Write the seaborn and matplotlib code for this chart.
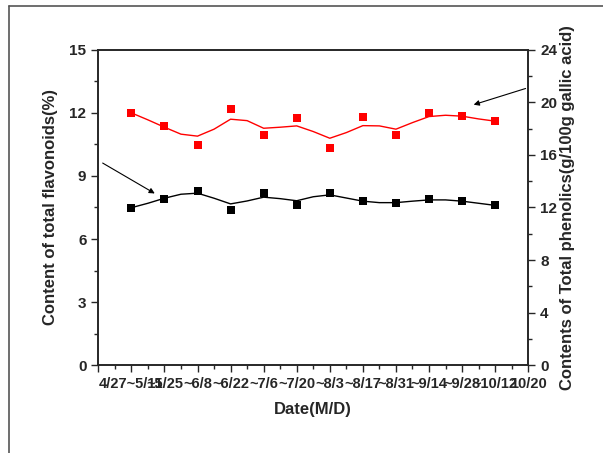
import matplotlib
matplotlib.use("Agg")
import matplotlib.pyplot as plt
import seaborn as sns
import pandas as pd
from matplotlib.lines import Line2D
from matplotlib.ticker import MultipleLocator

# %% data
periods = list(range(1, 13))
flavonoids = [7.49, 7.89, 8.30, 7.40, 8.19, 7.60, 8.19, 7.80, 7.70, 7.89, 7.80, 7.60]
phenolics = [19.20, 18.19, 16.78, 19.50, 17.50, 18.80, 16.51, 18.90, 17.50, 19.20, 18.97, 18.59]

# smoothed fit curves, read at every half period
curve_x = [1 + 0.5 * i for i in range(23)]
flav_curve = [7.49, 7.70, 7.94, 8.13, 8.18, 7.94, 7.67, 7.81, 7.99, 7.92, 7.82, 8.01,
              8.10, 7.95, 7.80, 7.73, 7.73, 7.80, 7.86, 7.86, 7.80, 7.70, 7.60]
phen_curve = [19.20, 18.67, 18.11, 17.58, 17.43, 17.96, 18.72, 18.61, 18.03, 18.11, 18.21, 17.78,
              17.27, 17.70, 18.23, 18.21, 17.96, 18.46, 18.92, 19.02, 18.95, 18.74, 18.57]

tick_pos = list(range(0, 14))
tick_labels = ["", "4/27~5/11", "~5/25", "~6/8", "~6/22", "~7/6", "~7/20", "~8/3",
               "~8/17", "~8/31", "~9/14", "~9/28", "~10/12", "10/20"]

pts = pd.DataFrame({"x": periods, "flav": flavonoids, "phen": phenolics})
crv = pd.DataFrame({"x": curve_x, "flav": flav_curve, "phen": phen_curve})

# %% plot
sns.set_style("ticks")
plt.rcParams["font.family"] = ["Liberation Sans", "DejaVu Sans"]
plt.rcParams["font.weight"] = "bold"

fig = plt.figure(figsize=(6.03, 4.53), dpi=100)
ax = fig.add_axes([0.163, 0.194, 0.713, 0.696])
ax2 = ax.twinx()

sns.lineplot(data=crv, x="x", y="flav", ax=ax, color="black", lw=1)
sns.scatterplot(data=pts, x="x", y="flav", ax=ax, color="black", marker="s", s=32, linewidth=0)
sns.lineplot(data=crv, x="x", y="phen", ax=ax2, color="red", lw=1)
sns.scatterplot(data=pts, x="x", y="phen", ax=ax2, color="red", marker="s", s=32, linewidth=0)

ax.set_xlim(0, 13)
ax.set_ylim(0, 15)
ax2.set_ylim(0, 24)
ax.set_xticks(tick_pos)
ax.set_xticklabels(tick_labels, fontsize=10.5, fontweight="bold")
ax.xaxis.set_minor_locator(MultipleLocator(0.5))
ax.yaxis.set_major_locator(MultipleLocator(3))
ax.yaxis.set_minor_locator(MultipleLocator(1.5))
ax2.yaxis.set_major_locator(MultipleLocator(4))
ax2.yaxis.set_minor_locator(MultipleLocator(2))

for a in (ax, ax2):
    for s in a.spines.values():
        s.set_linewidth(1.2)
        s.set_visible(True)
    a.tick_params(which="major", length=5, width=1)
    a.tick_params(which="minor", length=3, width=1)
    a.tick_params(axis="y", labelsize=11)
    for lab in a.get_yticklabels():
        lab.set_fontweight("bold")

ax.set_xlabel("Date(M/D)", fontsize=12, fontweight="bold", labelpad=8)
ax.set_ylabel("Content of total flavonoids(%)", fontsize=12, fontweight="bold", labelpad=8)
ax2.set_ylabel("Contents of Total phenolics(g/100g gallic acid)", fontsize=12,
               fontweight="bold", labelpad=2)

# pointer arrows
ax.annotate("", xy=(1.78, 8.10), xytext=(0.06, 9.68),
            arrowprops=dict(arrowstyle="-|>", color="black", lw=0.8, mutation_scale=8),
            annotation_clip=False)
ax.annotate("", xy=(11.27, 12.35), xytext=(13.0, 13.2),
            arrowprops=dict(arrowstyle="-|>", color="black", lw=0.8, mutation_scale=8),
            annotation_clip=False)

# outer frame lines
fig.add_artist(Line2D([0.015, 0.015], [0.0, 0.987], color="#555555", lw=1.2))
fig.add_artist(Line2D([0.015, 1.0], [0.987, 0.987], color="#555555", lw=1.2))

fig.savefig("out.png", dpi=100)
